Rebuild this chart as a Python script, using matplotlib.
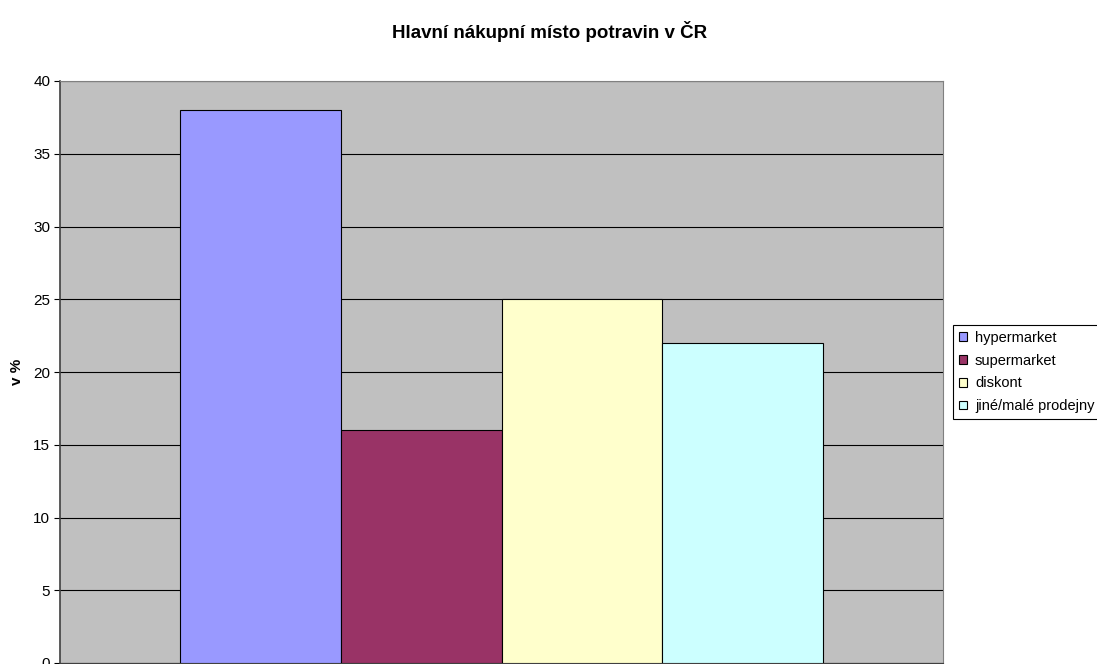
import matplotlib.pyplot as plt
from matplotlib.patches import Patch

categories = ['hypermarket', 'supermarket', 'diskont', 'jiné/malé prodejny']
values = [38, 16, 25, 22]
colors = ['#9999FF', '#993366', '#FFFFCC', '#CCFFFF']

plt.rcParams['font.family'] = ['Liberation Sans', 'DejaVu Sans']

fig = plt.figure(figsize=(10.97, 6.64), dpi=100)
ax = fig.add_axes([60/1097, 1/664, 883/1097, 582/664])
ax.set_facecolor('#C0C0C0')

w = 0.1818
offsets = [-1.5*w, -0.5*w, 0.5*w, 1.5*w]
for off, v, c in zip(offsets, values, colors):
    ax.bar(off, v, width=w, color=c, edgecolor='black', linewidth=0.8, zorder=3)

ax.set_xlim(-0.5, 0.5)
ax.set_ylim(0, 40)
ax.set_yticks(range(0, 41, 5))
ax.set_xticks([])
ax.yaxis.grid(True, color='black', linewidth=0.8, zorder=0)
ax.tick_params(axis='y', length=4, labelsize=11, direction='out', pad=3)
for s in ['top', 'right']:
    ax.spines[s].set_color('#808080')
ax.spines['left'].set_color('#404040')
ax.spines['left'].set_linewidth(1.2)
ax.spines['bottom'].set_color('#404040')

fig.text(17/1097, 1 - 372/664, 'v %', rotation=90, ha='center', va='center',
         fontsize=11, fontweight='bold')
fig.text(550/1097, 1 - 32/664, 'Hlavní nákupní místo potravin v ČR',
         ha='center', va='center', fontsize=13.5, fontweight='bold')

handles = [Patch(facecolor=c, edgecolor='black', linewidth=0.8) for c in colors]
leg = fig.legend(handles, categories, loc='upper left',
                 bbox_to_anchor=(953/1097, 1 - 325/664), fontsize=10.5,
                 handlelength=0.55, handleheight=0.55, handletextpad=0.55,
                 labelspacing=0.6, borderpad=0.4, borderaxespad=0,
                 fancybox=False, edgecolor='black', framealpha=1)
leg.get_frame().set_linewidth(0.8)

fig.savefig('out.png', dpi=100)
